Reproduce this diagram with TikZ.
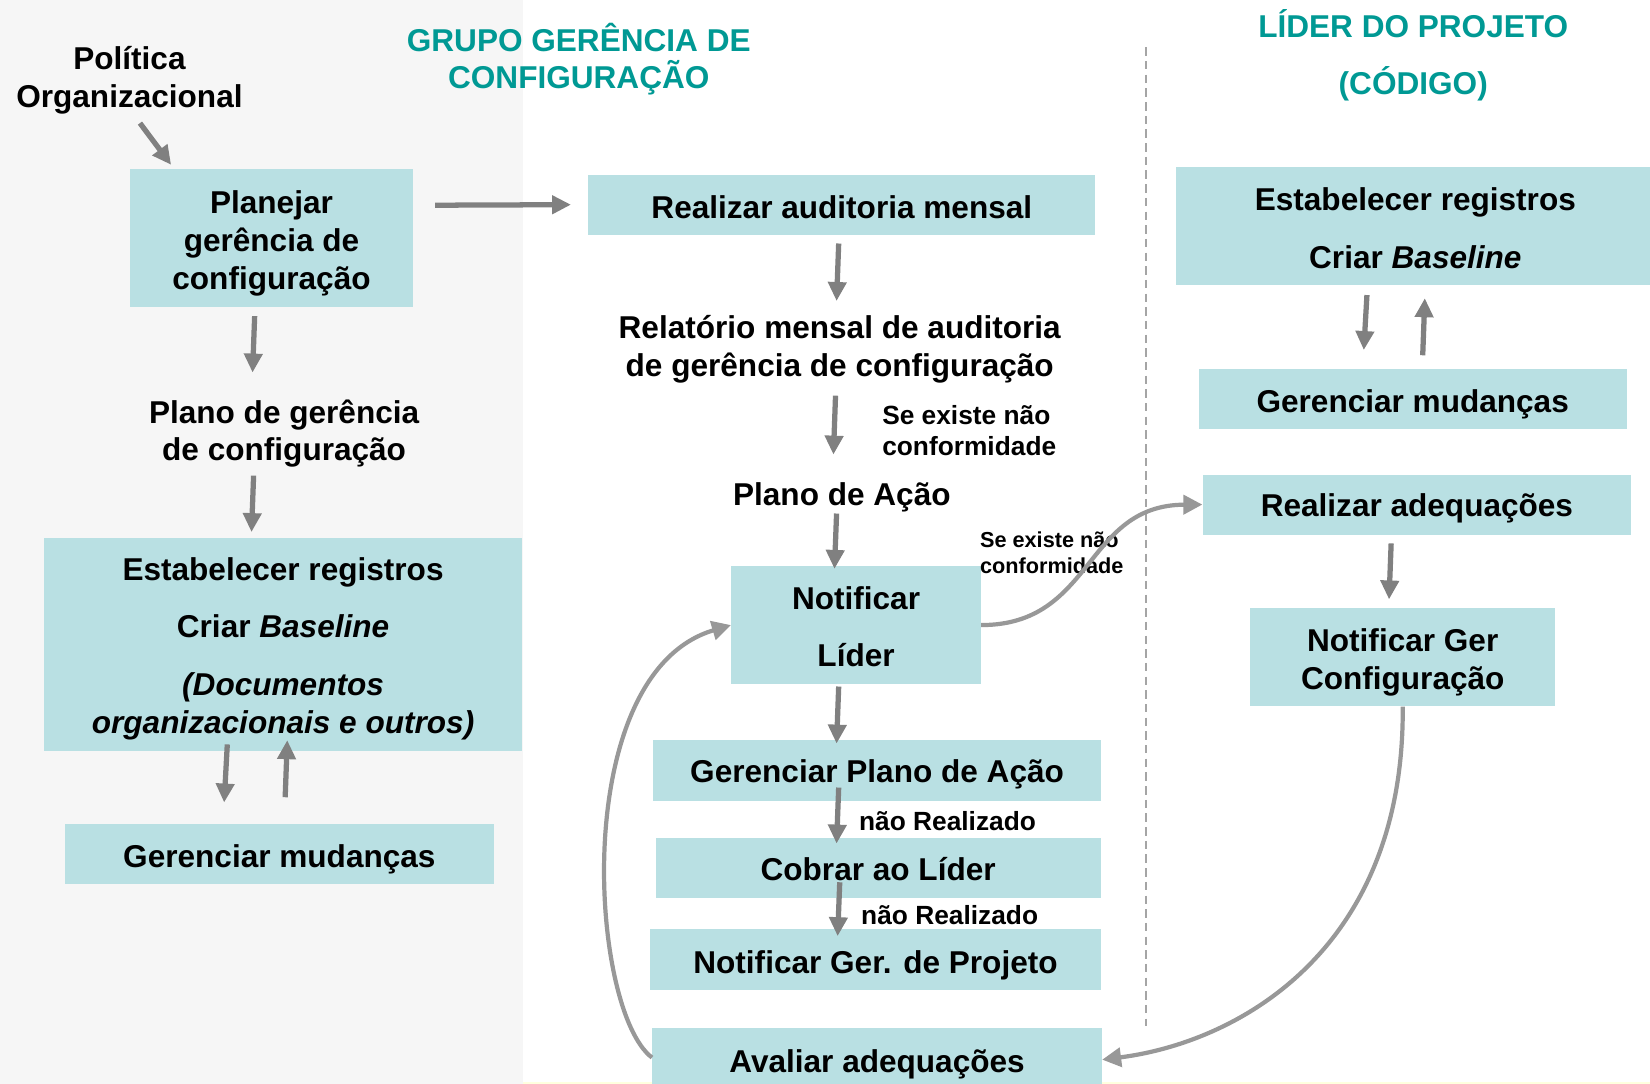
\documentclass[tikz,border=0pt]{standalone}
\usepackage{fontspec}
\setmainfont{Liberation Sans}
\usetikzlibrary{arrows.meta,calc}
\definecolor{boxc}{RGB}{185,224,227}
\definecolor{titlec}{RGB}{0,153,148}
\definecolor{panelc}{RGB}{246,246,246}
\definecolor{arrgray}{RGB}{128,128,128}
\definecolor{curvgray}{RGB}{152,152,152}
\definecolor{dashgray}{RGB}{165,165,165}
\definecolor{stripc}{RGB}{255,255,222}
\newcommand\mainf{\bfseries\fontsize{15}{18}\selectfont}
\begin{document}
\begin{tikzpicture}[x=0.5pt,y=-0.5pt,
  box/.style={fill=boxc, inner sep=0pt},
  txt/.style={inner sep=0pt, align=center, font=\mainf},
  titletxt/.style={inner sep=0pt, align=center, text=titlec},
  lbl/.style={inner sep=0pt, align=left, anchor=west, font=\bfseries\fontsize{12.5}{15}\selectfont},
  lblsmall/.style={inner sep=0pt, align=left, anchor=west, font=\bfseries\fontsize{10.3}{12.5}\selectfont},
  arr/.style={draw=arrgray, line width=2.5pt, -{Triangle[length=9pt,width=8.5pt]}},
  carr/.style={draw=curvgray, line width=2pt, -{Triangle[length=9pt,width=9pt]}},
  dashline/.style={draw=dashgray, line width=0.75pt, dash pattern=on 4pt off 2.5pt}
]
\clip (0,0) rectangle (1568,1030);
\fill[white] (0,0) rectangle (1568,1030);
\fill[panelc] (0,0) rectangle (497,1030);
\fill[stripc] (497,1028) rectangle (1568,1030);

% titles
\node[titletxt, font=\bfseries\fontsize{15}{17.5}\selectfont] (grupo) at (550,56) {GRUPO GERÊNCIA DE\\CONFIGURAÇÃO};
\node[titletxt, font=\bfseries\fontsize{15}{27.5}\selectfont] (lider) at (1343,52.5) {LÍDER DO PROJETO\\(CÓDIGO)};

% left column
\node[txt] (politica) at (123,76) {Política\\Organizacional};
\node[box, minimum width=134pt, minimum height=65.5pt] (planejar) at (258,226.5) {};
\node[txt] (planejarT) at ($(planejar)+(0,4.5)$) {Planejar\\gerência de\\configuração};
\node[txt] (planogc) at (270,412) {Plano de gerência\\de configuração};
\node[box, minimum width=227pt, minimum height=101.5pt] (estL) at (269,612.5) {};
\node[txt] (estLT) at ($(estL)+(0,4)$)
  {Estabelecer registros\\[9.5pt]Criar \textit{Baseline}\\[9.5pt]\textit{(Documentos}\\\textit{organizacionais e outros)}};
\node[box, minimum width=203.5pt, minimum height=28.5pt] (gmL) at (265.5,811.5) {};
\node[txt] (gmLT) at ($(gmL)+(0,5)$) {Gerenciar mudanças};

% middle column
\node[box, minimum width=241pt, minimum height=28.5pt] (audit) at (800,194.5) {};
\node[txt] (auditT) at ($(audit)+(0,2)$) {Realizar auditoria mensal};
\node[txt] (relat) at (798,332) {Relatório mensal de auditoria\\de gerência de configuração};
\node[lbl] (lbl1) at (838,409) {Se existe não\\conformidade};
\node[txt] (planoacao) at (800,473) {Plano de Ação};
\node[box, minimum width=118.5pt, minimum height=56pt] (notif) at (813.5,594) {};
\node[txt] (notifT) at ($(notif)+(0,1.5)$) {Notificar\\[9pt]Líder};
\node[lblsmall] (lbl2) at (931,525.5) {Se existe não\\conformidade};
\node[box, minimum width=212.5pt, minimum height=29pt] (gerplano) at (833.5,732) {};
\node[txt] (gerplanoT) at ($(gerplano)+(0,4)$) {Gerenciar Plano de Ação};
\node[lbl] (nr1) at (816,780) {não Realizado};
\node[box, minimum width=211.5pt, minimum height=28.5pt] (cobrar) at (834.5,824.5) {};
\node[txt] (cobrarT) at ($(cobrar)+(0,1.5)$) {Cobrar ao Líder};
\node[lbl] (nr2) at (818,870) {não Realizado};
\node[box, minimum width=214pt, minimum height=29pt] (notgp) at (832,912) {};
\node[txt] (notgpT) at ($(notgp)+(0,5)$) {Notificar Ger. de Projeto};
\node[box, minimum width=213.5pt, minimum height=30pt] (avaliar) at (833.5,1007) {};
\node[txt] (avaliarT) at ($(avaliar)+(0,4)$) {Avaliar adequações};

% right column
\node[box, minimum width=227pt, minimum height=56pt] (estR) at (1345,215) {};
\node[txt] (estRT) at ($(estR)+(0,2)$) {Estabelecer registros\\[9.5pt]Criar \textit{Baseline}};
\node[box, minimum width=203.5pt, minimum height=28.5pt] (gmR) at (1342.5,379.5) {};
\node[txt] (gmRT) at ($(gmR)+(0,5)$) {Gerenciar mudanças};
\node[box, minimum width=203.5pt, minimum height=28.5pt] (realad) at (1346.5,479.5) {};
\node[txt] (realadT) at ($(realad)+(0,4)$) {Realizar adequações};
\node[box, minimum width=145pt, minimum height=46.5pt] (notgc) at (1333,624.5) {};
\node[txt] (notgcT) at ($(notgc)+(0,5)$) {Notificar Ger\\Configuração};

% dashed separator
\draw[dashline] (1089,45) -- (1089,975);

% straight arrows
\draw[arr] ($(politica)+(10,41)$) -- ($(planejar.north west)+(39,-4)$);
\draw[arr] ($(planejar.east)+(21,-31.5)$) -- ($(audit.west)+(-16,0)$);
\draw[arr] ($(planejar.south)+(-16,8)$) -- ($(planogc)+(-30,-58)$);
\draw[arr] ($(planogc)+(-29,40)$) -- ($(estL.north)+(-30,-5)$);
\draw[arr] ($(estL.south)+(-53,-7)$) -- ($(gmL.north)+(-52.5,-20)$);
\draw[arr] ($(gmL.north)+(5.5,-25)$) -- ($(estL.south)+(4,-11)$);

\draw[arr] ($(audit.south)+(-3,8)$) -- ($(relat)+(-3,-46)$);
\draw[arr] ($(relat)+(-4,44)$) -- ($(planoacao)+(-8,-41)$);
\draw[arr] ($(planoacao)+(-5,15)$) -- ($(notif.north)+(-20.5,3)$);
\draw[arr] ($(notif.south)+(-16.5,2)$) -- ($(gerplano.north)+(-38.5,4)$);
\draw[arr] ($(gerplano.south)+(-36.5,-13)$) -- ($(cobrar.north)+(-39.5,6)$);
\draw[arr] ($(cobrar.south)+(-36.5,-15)$) -- ($(notgp.north)+(-36,7)$);

\draw[arr] ($(estR.south)+(-46,9)$) -- ($(gmR.north)+(-46.5,-18)$);
\draw[arr] ($(gmR.north)+(9.5,-13)$) -- ($(estR.south)+(9,12)$);
\draw[arr] ($(realad.south)+(-24.5,8)$) -- ($(notgc.north)+(-13,-8)$);

% curved arrows
\draw[carr] (notif.east) .. controls (1040,594) and (1030,480) .. (realad.west);
\draw[carr] (notgc.south) .. controls (1335,900) and (1180,990) .. (avaliar.east);
\draw[carr] ($(avaliar.west)+(0,-2)$) .. controls (560,960) and (540,640) .. (notif.west);
\end{tikzpicture}
\end{document}
